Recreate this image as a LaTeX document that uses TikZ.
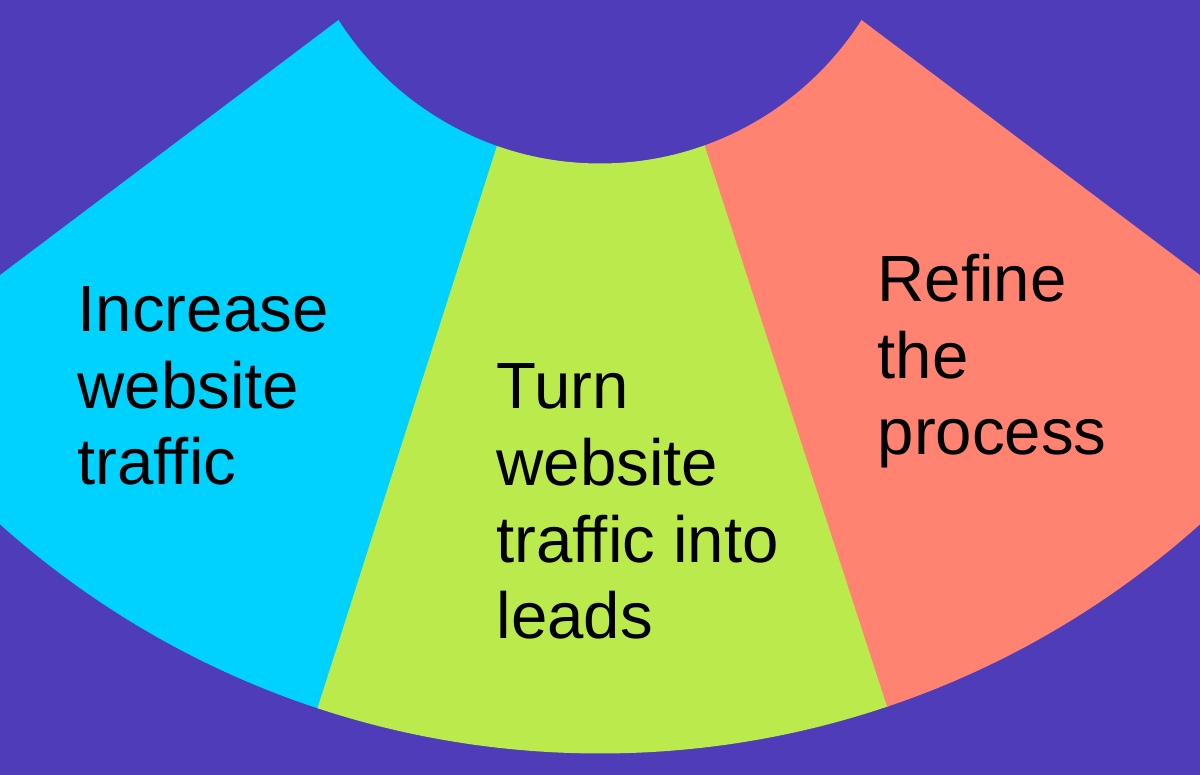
\documentclass[tikz,border=0pt]{standalone}
\usepackage{fontspec}
\setmainfont{Liberation Sans}
\definecolor{bgpurple}{HTML}{4E3CB8}
\definecolor{segcyan}{HTML}{00D2FF}
\definecolor{seglime}{HTML}{BBEA4D}
\definecolor{segsalmon}{HTML}{FF8370}
\tikzset{segtext/.style={anchor=base west, inner sep=0pt, align=left, text=black,
  font=\fontsize{18.6pt}{21.9pt}\selectfont}}
\begin{document}
\begin{tikzpicture}
\fill[bgpurple] (0,0) rectangle (12,7.75); % background
\clip (0,0) rectangle (12,7.75);
\coordinate (apex) at (6,9.52);   % where the edges meet
\coordinate (ctr) at (6,9.215);   % centre of the arcs
\foreach \a/\b/\col in {217/252.4/segcyan,252.3/288.1/seglime,288/323/segsalmon} % edit here for the wedges
{
\begin{scope}
\clip (apex) -- +(\a:14) -- +(\b:14) -- cycle;
\fill[\col, even odd rule] (ctr) circle (9) (ctr) circle (3.1);
\end{scope}
}
% base anchor sits on the last line
\node[segtext] (grow) at (0.77,2.90) {Increase\\website\\traffic};
\node[segtext] (convert) at (4.96,1.36) {Turn\\website\\traffic into\\leads};
\node[segtext] (refine) at (8.77,3.20) {Refine\\the\\process};
\end{tikzpicture}
\end{document}
